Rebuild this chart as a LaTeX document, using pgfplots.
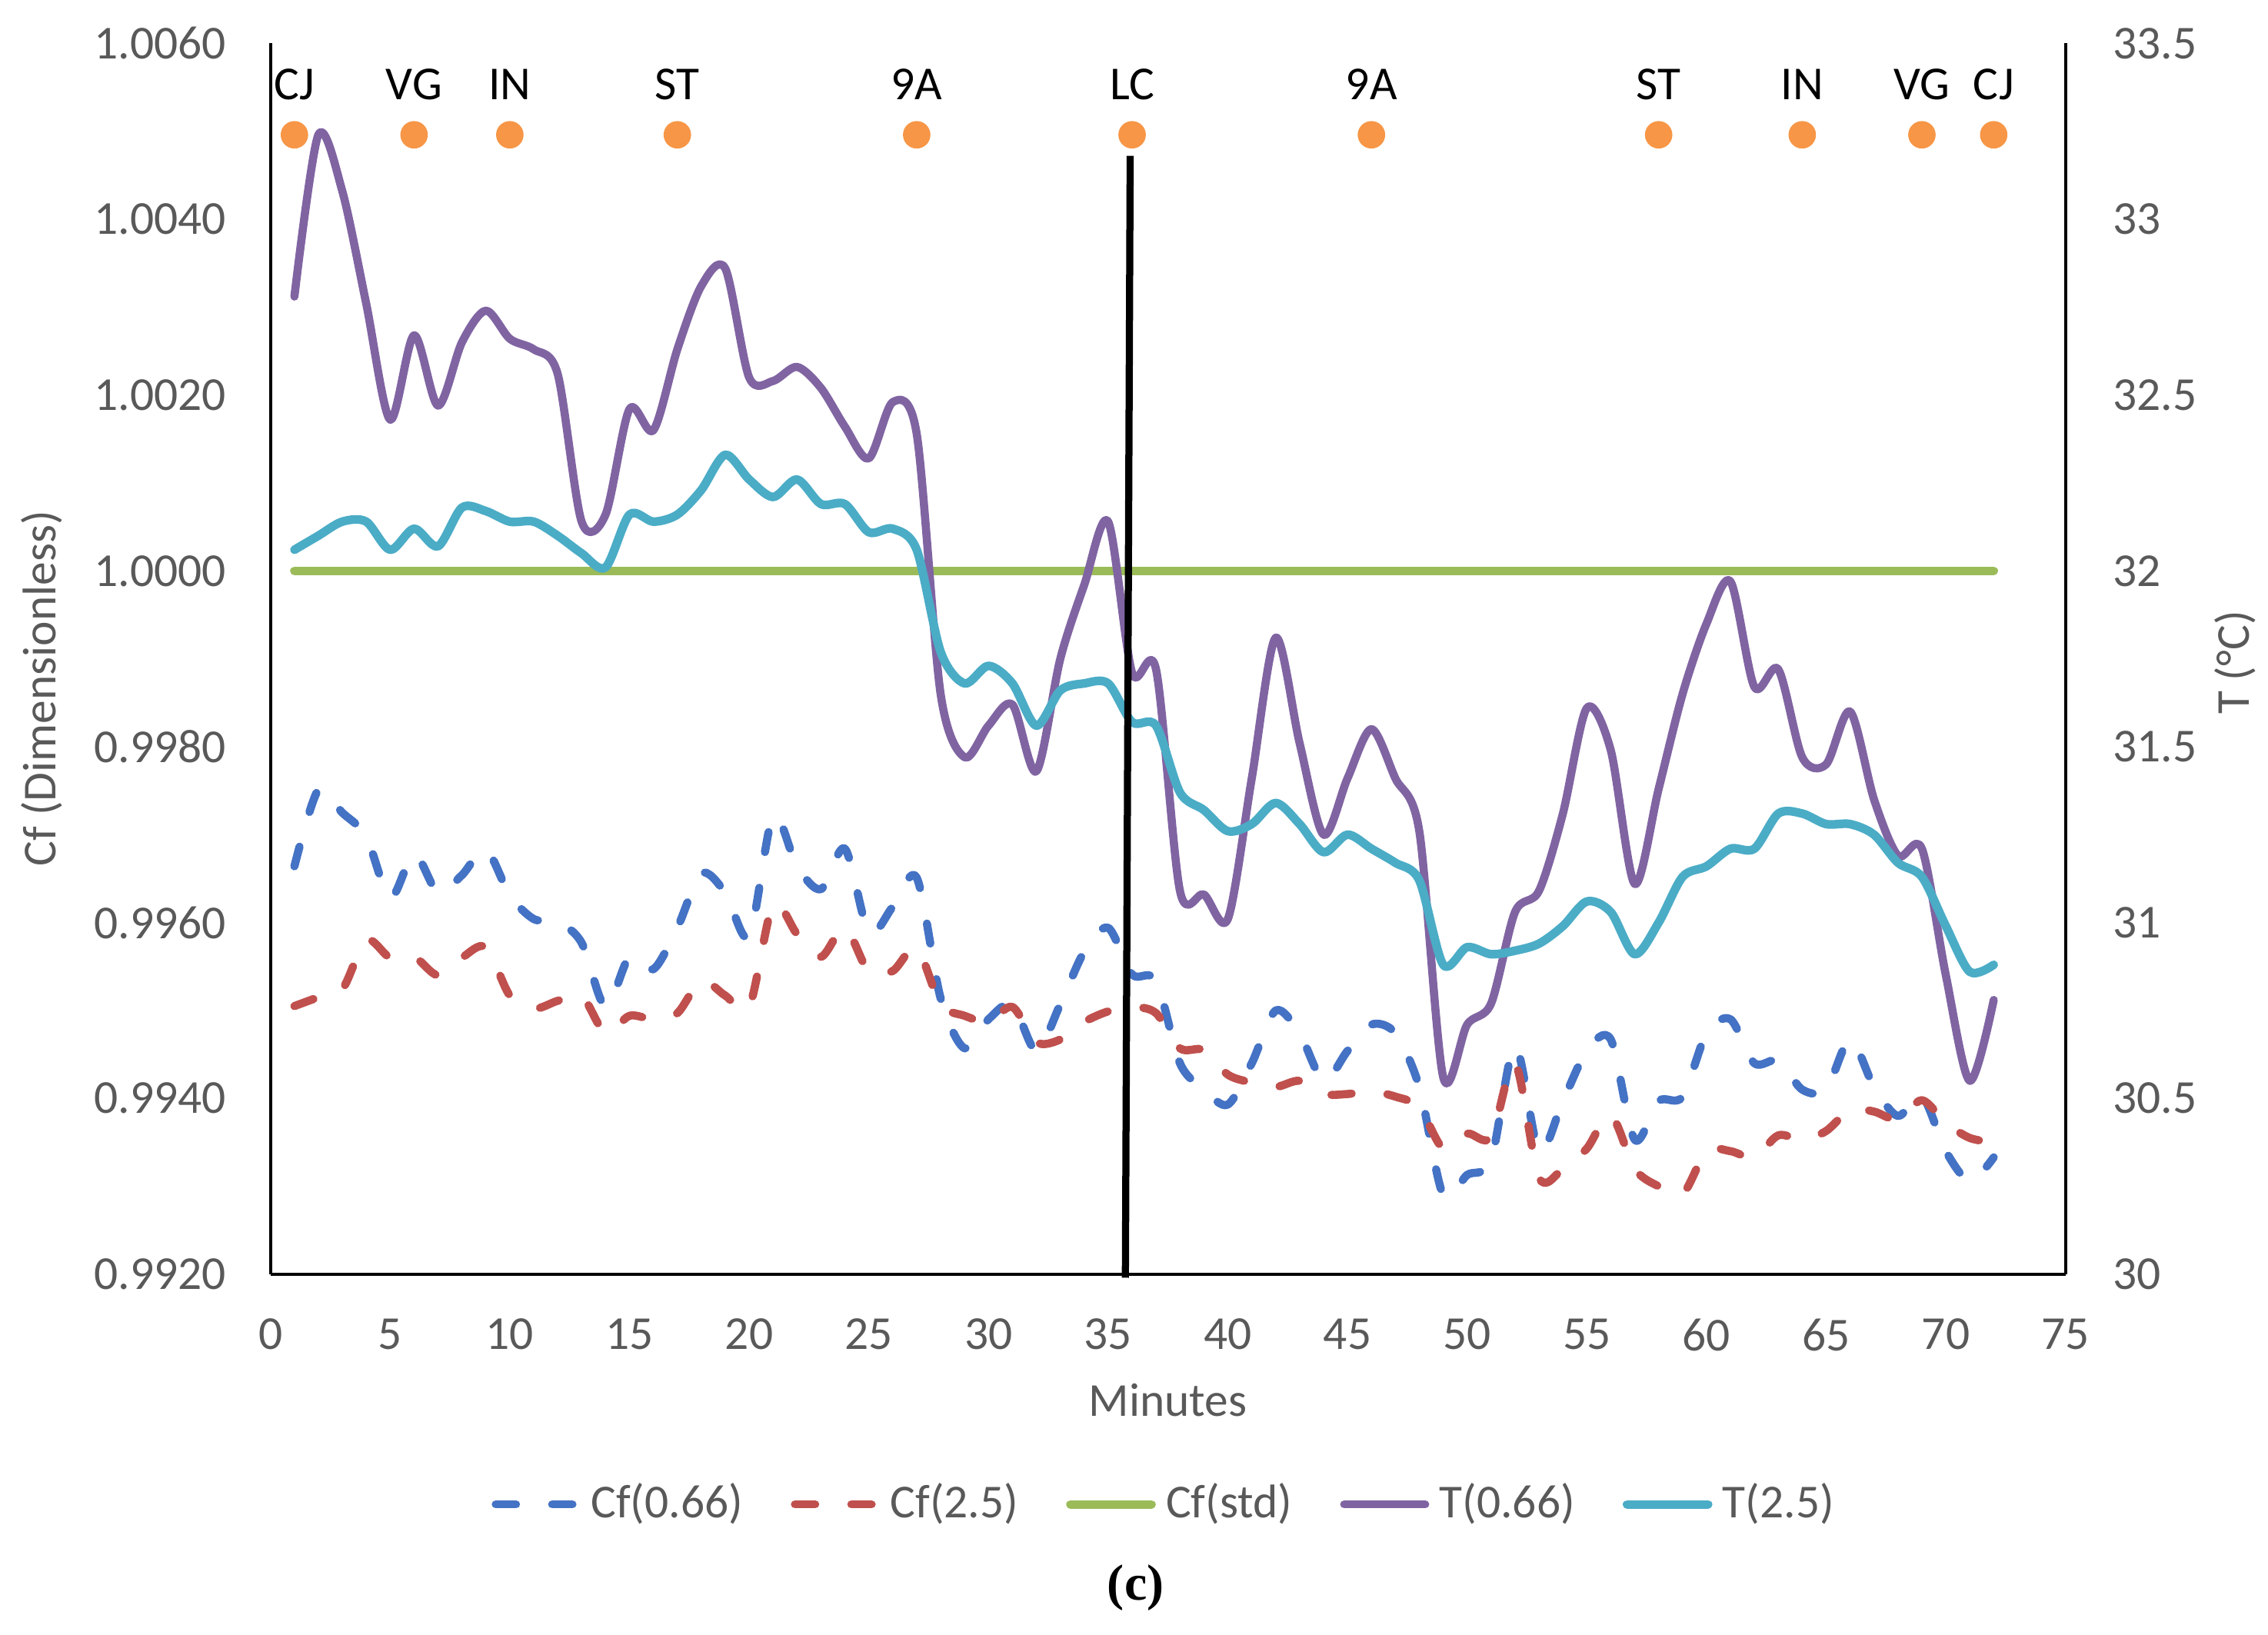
\documentclass[border=0pt]{standalone}
\usepackage{pgfplots}
\pgfplotsset{compat=1.18}
\usepackage{pgfplotstable}
\usepackage{fontspec}
\setmainfont{Carlito}
\newfontfamily\serifbf{Liberation Serif}
\definecolor{cfblue}{HTML}{4472C4}
\definecolor{cfred}{HTML}{C0504D}
\definecolor{cfgreen}{HTML}{9BBB59}
\definecolor{tpurple}{HTML}{8064A2}
\definecolor{tcyan}{HTML}{4BACC6}
\definecolor{dotorange}{HTML}{F79646}
\definecolor{tickgray}{HTML}{595959}
\newcommand{\fs}{\fontsize{9.3}{11.2}\selectfont}

\pgfplotstableread{
t v
1 0.99664
2 0.99751
3 0.99725
4 0.99698
5 0.99628
6 0.99678
7 0.99634
8 0.99654
9 0.99683
10 0.99631
11 0.99604
12 0.99601
13 0.99577
14 0.99504
15 0.99561
16 0.99547
17 0.99594
18 0.99656
19 0.99634
20 0.99584
21 0.99721
22 0.99664
23 0.99638
24 0.99684
25 0.99589
26 0.99618
27 0.99651
28 0.99514
29 0.99457
30 0.99490
31 0.99507
32 0.99454
33 0.99507
34 0.99567
35 0.99594
36 0.99541
37 0.99534
38 0.99440
39 0.99410
40 0.99393
41 0.99440
42 0.99500
43 0.99474
44 0.99420
45 0.99454
46 0.99484
47 0.99474
48 0.99413
49 0.99290
50 0.99313
51 0.99330
52 0.99460
53 0.99340
54 0.99397
55 0.99454
56 0.99467
57 0.99353
58 0.99397
59 0.99402
60 0.99474
61 0.99490
62 0.99440
63 0.99443
64 0.99410
65 0.99410
66 0.99467
67 0.99413
68 0.99380
69 0.99403
70 0.99340
71 0.99306
72 0.99333
}\cfA

\pgfplotstableread{
t v
1 0.99505
2 0.99515
3 0.99524
4 0.99580
5 0.99560
6 0.99561
7 0.99540
8 0.99560
9 0.99572
10 0.99517
11 0.99502
12 0.99511
13 0.99517
14 0.99474
15 0.99494
16 0.99490
17 0.99497
18 0.99534
19 0.99517
20 0.99504
21 0.99620
22 0.99587
23 0.99561
24 0.99594
25 0.99544
26 0.99545
27 0.99571
28 0.99507
29 0.99494
30 0.99487
31 0.99504
32 0.99464
33 0.99467
34 0.99487
35 0.99499
36 0.99504
37 0.99497
38 0.99457
39 0.99455
40 0.99427
41 0.99418
42 0.99413
43 0.99420
44 0.99405
45 0.99405
46 0.99408
47 0.99402
48 0.99390
49 0.99343
50 0.99360
51 0.99356
52 0.99440
53 0.99310
54 0.99320
55 0.99343
56 0.99381
57 0.99320
58 0.99300
59 0.99291
60 0.99340
61 0.99340
62 0.99333
63 0.99358
64 0.99353
65 0.99363
66 0.99387
67 0.99385
68 0.99376
69 0.99398
70 0.99372
71 0.99355
72 0.99350
}\cfB

\pgfplotstableread{
t v
1 32.78
2 33.24
3 33.08
4 32.76
5 32.43
6 32.67
7 32.47
8 32.65
9 32.74
10 32.66
11 32.63
12 32.56
13 32.14
14 32.16
15 32.46
16 32.40
17 32.63
18 32.81
19 32.86
20 32.55
21 32.54
22 32.58
23 32.52
24 32.41
25 32.32
26 32.48
27 32.39
28 31.65
29 31.47
30 31.56
31 31.62
32 31.43
33 31.75
34 31.96
35 32.14
36 31.71
37 31.72
38 31.09
39 31.08
40 31.01
41 31.41
42 31.81
43 31.51
44 31.25
45 31.41
46 31.55
47 31.41
48 31.26
49 30.56
50 30.71
51 30.77
52 31.03
53 31.09
54 31.31
55 31.61
56 31.49
57 31.11
58 31.38
59 31.65
60 31.85
61 31.97
62 31.67
63 31.72
64 31.47
65 31.45
66 31.60
67 31.35
68 31.19
69 31.21
70 30.85
71 30.55
72 30.78
}\tA

\pgfplotstableread{
t v
1 32.06
2 32.10
3 32.14
4 32.14
5 32.06
6 32.12
7 32.07
8 32.18
9 32.17
10 32.14
11 32.14
12 32.10
13 32.05
14 32.01
15 32.16
16 32.14
17 32.16
18 32.23
19 32.33
20 32.26
21 32.21
22 32.26
23 32.19
24 32.19
25 32.11
26 32.12
27 32.06
28 31.77
29 31.68
30 31.73
31 31.68
32 31.56
33 31.66
34 31.68
35 31.68
36 31.57
37 31.56
38 31.37
39 31.32
40 31.26
41 31.28
42 31.34
43 31.28
44 31.20
45 31.25
46 31.21
47 31.17
48 31.12
49 30.88
50 30.93
51 30.91
52 30.92
53 30.94
54 30.99
55 31.06
56 31.03
57 30.91
58 31.00
59 31.13
60 31.16
61 31.21
62 31.21
63 31.31
64 31.31
65 31.28
66 31.28
67 31.25
68 31.17
69 31.13
70 30.99
71 30.86
72 30.88
}\tB

\pgfplotstableread{
t y lab
1 33.24 CJ
6 33.24 VG
10 33.24 IN
17 33.24 ST
27 33.24 9A
36 33.24 LC
46 33.24 9A
58 33.24 ST
64 33.24 IN
69 33.24 VG
72 33.24 CJ
}\evtable

\pgfplotsset{
  cfastyle/.style={color=cfblue, line width=1.6pt, dash pattern=on 1.4mm off 2.5mm, line cap=round, line join=round},
  cfbstyle/.style={color=cfred, line width=1.6pt, dash pattern=on 1.4mm off 2.5mm, line cap=round, line join=round},
  cfsstyle/.style={color=cfgreen, line width=1.7pt, line cap=round},
  tastyle/.style={color=tpurple, line width=1.6pt, line cap=round, line join=round},
  tbstyle/.style={color=tcyan, line width=1.7pt, line cap=round, line join=round},
}

\begin{document}
\begin{tikzpicture}
\begin{axis}[
  scale only axis, width=124.1mm, height=85.1mm,
  xmin=0, xmax=75, ymin=0.992, ymax=1.006,
  axis x line*=bottom, axis y line*=left,
  axis line style={-, black, line width=0.6pt},
  xtick={0,5,...,75},
  ytick={0.992,0.994,0.996,0.998,1.000,1.002,1.004,1.006},
  major tick length=0pt,
  /pgf/number format/assume math mode=true,
  tick label style={font=\fs, text=tickgray, inner sep=0pt},
  yticklabel style={/pgf/number format/fixed, /pgf/number format/fixed zerofill, /pgf/number format/precision=4},
  xticklabel shift=3mm, yticklabel shift=3mm,
  xlabel={Minutes}, ylabel={Cf (Dimensionless)},
  label style={font=\fs, text=tickgray},
  xlabel style={at={(axis description cs:0.5,-0.1022)}, anchor=center},
  ylabel style={at={(axis description cs:-0.1273,0.476)}, anchor=center},
]
\addplot[cfastyle, smooth, tension=0.5] table[x=t, y=v] {\cfA};
\addplot[cfbstyle, smooth, tension=0.5] table[x=t, y=v] {\cfB};
\addplot[cfsstyle] coordinates {(1,1.0000) (72,1.0000)};
\end{axis}
\begin{axis}[
  scale only axis, width=124.1mm, height=85.1mm,
  xmin=0, xmax=75, ymin=30, ymax=33.5,
  axis x line=none, axis y line*=right,
  axis line style={-, black, line width=0.6pt},
  ytick={30,30.5,31,31.5,32,32.5,33,33.5},
  major tick length=0pt,
  /pgf/number format/assume math mode=true,
  tick label style={font=\fs, text=tickgray, inner sep=0pt},
  yticklabel shift=3.2mm,
  ylabel={T (°C)},
  label style={font=\fs, text=tickgray},
  ylabel style={at={(axis description cs:1.0943,0.497)}, anchor=center},
  clip=false,
  legend style={at={(0.5,-0.187)}, anchor=center, draw=none, fill=none, font=\fs, text=tickgray,
    /tikz/every even column/.append style={column sep=2.6mm}},
  legend columns=-1,
  legend image code/.code={\draw[#1] (0mm,0mm) -- (5.6mm,0mm);},
]
\coordinate (sw) at (rel axis cs:0,0);
\addlegendimage{cfastyle}
\addlegendentry{Cf(0.66)}
\addlegendimage{cfbstyle}
\addlegendentry{Cf(2.5)}
\addlegendimage{cfsstyle}
\addlegendentry{Cf(std)}
\addplot[tastyle, smooth, tension=0.5] table[x=t, y=v] {\tA};
\addlegendentry{T(0.66)}
\addplot[tbstyle, smooth, tension=0.5] table[x=t, y=v] {\tB};
\addlegendentry{T(2.5)}
\addplot[black, line width=1.4pt, forget plot] coordinates {(35.72,29.99) (35.92,33.18)};
\addplot[only marks, mark=*, mark size=2.5pt, color=dotorange,
  mark options={draw=dotorange, fill=dotorange}, forget plot,
  nodes near coords, point meta=explicit symbolic,
  every node near coord/.append style={anchor=center, yshift=3.5mm, text=black, font=\fs}]
  table[x=t, y=y, meta=lab] {\evtable};
\node[font=\serifbf\bfseries\fontsize{10}{12}\selectfont, text=black] at (axis description cs:0.482,-0.255) {(c)};
\end{axis}
\pgfresetboundingbox
\path[use as bounding box] (sw) ++(-18.7mm,-24.9mm) rectangle ++(156.8mm,113mm);
\end{tikzpicture}
\end{document}
